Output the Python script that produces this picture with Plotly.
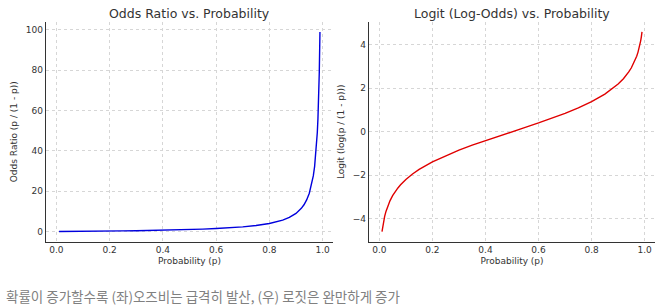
import plotly.graph_objects as go

# Values
prob = [0.01, 0.0125, 0.015, 0.0175, 0.02, 0.025, 0.03, 0.035, 0.04, 0.05, 0.06, 0.07, 0.08,
        0.1, 0.125, 0.15, 0.2, 0.25, 0.3, 0.35, 0.4, 0.45, 0.5, 0.55, 0.6, 0.65, 0.7, 0.75,
        0.8, 0.85, 0.875, 0.9, 0.92, 0.93, 0.94, 0.95, 0.96, 0.965, 0.97, 0.975, 0.98,
        0.9825, 0.985, 0.9875, 0.99]
odds = [0.0101, 0.0127, 0.0152, 0.0178, 0.0204, 0.0256, 0.0309, 0.0363, 0.0417, 0.0526,
        0.0638, 0.0753, 0.087, 0.111, 0.143, 0.176, 0.25, 0.333, 0.429, 0.538, 0.667,
        0.818, 1.0, 1.222, 1.5, 1.857, 2.333, 3.0, 4.0, 5.667, 7.0, 9.0, 11.5, 13.29,
        15.67, 19.0, 24.0, 27.57, 32.33, 39.0, 49.0, 56.14, 65.67, 79.0, 99.0]
logit = [-4.595, -4.369, -4.185, -4.028, -3.892, -3.664, -3.476, -3.317, -3.178, -2.944,
         -2.752, -2.586, -2.442, -2.197, -1.946, -1.735, -1.386, -1.099, -0.847, -0.619,
         -0.405, -0.201, 0.0, 0.201, 0.405, 0.619, 0.847, 1.099, 1.386, 1.735, 1.946,
         2.197, 2.442, 2.587, 2.752, 2.944, 3.178, 3.317, 3.476, 3.664, 3.892, 4.028,
         4.185, 4.369, 4.595]

titles = ["Odds Ratio vs. Probability", "Logit (Log-Odds) vs. Probability"]
x_title = "Probability (p)"
y_titles = ["Odds Ratio (p / (1 - p))", "Logit (log(p / (1 - p)))"]
caption = "확률이 증가할수록 (좌)오즈비는 급격히 발산, (우) 로짓은 완만하게 증가"

FONT = "DejaVu Sans"
W, H = 670, 308

fig = go.Figure()
fig.add_trace(go.Scatter(x=prob, y=odds, mode="lines", line=dict(color="#0000dd", width=1.4),
                         xaxis="x", yaxis="y", showlegend=False))
fig.add_trace(go.Scatter(x=prob, y=logit, mode="lines", line=dict(color="#e00000", width=1.4),
                         xaxis="x2", yaxis="y2", showlegend=False))

ybot = 1 - 241.5 / H
ytop = 1 - 22 / H
axis_common = dict(showgrid=True, gridcolor="#d6d6d6", griddash="dot", gridwidth=0.7,
                   showline=True, linecolor="#333333", linewidth=1.3, ticks="",
                   zeroline=False, tickfont=dict(family=FONT, size=9, color="#333333"),
                   mirror=False)

fig.update_layout(
    width=W, height=H, margin=dict(l=0, r=0, t=0, b=0),
    paper_bgcolor="white", plot_bgcolor="white",
    font=dict(family=FONT, color="#333333"),
    xaxis=dict(domain=[46 / W, 333 / W], range=[-0.039, 1.039], anchor="y",
               tickvals=[0, 0.2, 0.4, 0.6, 0.8, 1.0], ticktext=["0.0", "0.2", "0.4", "0.6", "0.8", "1.0"],
               title=dict(text=x_title, font=dict(family=FONT, size=9, color="#333333"), standoff=3),
               **axis_common),
    yaxis=dict(domain=[ybot, ytop], range=[-4.94, 103.95], anchor="x",
               tickvals=[0, 20, 40, 60, 80, 100],
               title=dict(text=y_titles[0], font=dict(family=FONT, size=9, color="#333333"), standoff=6),
               **axis_common),
    xaxis2=dict(domain=[369 / W, 655 / W], range=[-0.039, 1.039], anchor="y2",
                tickvals=[0, 0.2, 0.4, 0.6, 0.8, 1.0], ticktext=["0.0", "0.2", "0.4", "0.6", "0.8", "1.0"],
                title=dict(text=x_title, font=dict(family=FONT, size=9, color="#333333"), standoff=3),
                **axis_common),
    yaxis2=dict(domain=[ybot, ytop], range=[-5.05, 5.05], anchor="x2",
                tickvals=[-4, -2, 0, 2, 4], ticktext=["\u22124", "\u22122", "0", "2", "4"],
                title=dict(text=y_titles[1], font=dict(family=FONT, size=9, color="#333333"), standoff=6),
                **axis_common),
)

fig.add_annotation(text=titles[0], x=(46 + 333) / 2 / W, y=1 - 13 / H, xref="paper", yref="paper",
                   showarrow=False, font=dict(family=FONT, size=12.5, color="#333333"),
                   xanchor="center", yanchor="middle")
fig.add_annotation(text=titles[1], x=(369 + 655) / 2 / W, y=1 - 13 / H, xref="paper", yref="paper",
                   showarrow=False, font=dict(family=FONT, size=12.5, color="#333333"),
                   xanchor="center", yanchor="middle")
fig.add_annotation(text=caption, x=4 / W, y=1 - 296 / H, xref="paper", yref="paper",
                   showarrow=False, font=dict(family="Noto Sans CJK KR", size=13.5, color="#808080"),
                   xanchor="left", yanchor="middle")

fig.write_html("out.html")
